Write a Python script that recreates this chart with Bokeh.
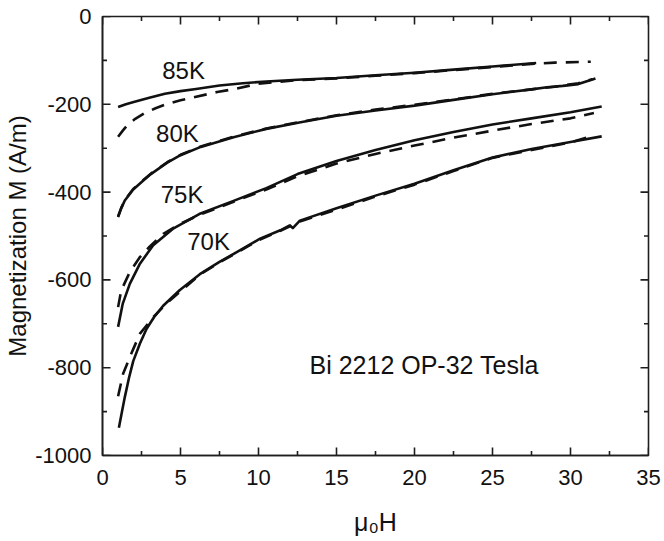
from bokeh.plotting import figure
from bokeh.models import Range1d, SingleIntervalTicker, CustomJSTickFormatter, ColumnDataSource
from bokeh.core.properties import value
from bokeh.embed import file_html
from bokeh.resources import INLINE

# ---- data ----
x85_s = [1.0, 1.5, 2.0, 3.0, 4.0, 5.0, 6.0, 7.5, 9.0, 10.5, 12.5, 15.0, 17.5, 20.0, 22.5, 25.0, 27.8]
y85_s = [-206, -200, -195, -185, -176, -170, -165, -157, -152, -148, -144, -140, -134, -128, -121, -114, -106]
x85_d = [1.0, 1.3, 1.6, 2.1, 2.65, 3.4, 4.15, 5.0, 5.85, 7.35, 8.5, 10.0, 12.5, 15.0, 17.5, 20.0, 22.5, 25.0, 27.5, 29.0, 31.3]
y85_d = [-274, -260, -247, -233, -221, -209, -199, -191, -184, -172, -165, -153, -145, -141, -135, -129, -122, -115, -108, -105, -103]

x80_s = [1.0, 1.2, 1.43, 1.97, 2.6, 3.1, 4.15, 5.0, 6.3, 8.4, 10.5, 12.7, 15.0, 17.5, 20.0, 22.5, 25.0, 27.5, 28.5, 29.5, 30.5, 31.6]
y80_s = [-457, -437, -419, -394, -374, -359, -333, -316, -297, -275, -256, -241, -226, -214, -203, -190, -177, -166, -161, -158, -154, -141]
x80_d = [1.0, 1.2, 1.43, 1.97, 2.6, 3.1, 4.15, 5.0, 6.3, 8.4, 10.5, 12.7, 15.0, 17.5, 20.0, 22.5, 25.0, 27.5, 29.0, 30.5, 31.4]
y80_d = [-455, -436, -418, -393, -373, -358, -332, -315, -296, -274, -255, -240, -225, -212, -201, -189, -176, -166, -160, -152, -143]

x75_s = [1.0, 1.3, 1.75, 2.4, 3.25, 4.5, 6.2, 8.4, 10.5, 12.5, 15.0, 17.5, 20.0, 22.5, 25.0, 27.5, 30.0, 32.0]
y75_s = [-707, -654, -609, -563, -521, -484, -450, -420, -391, -359, -329, -304, -282, -263, -246, -232, -218, -205]
x75_d = [1.0, 1.2, 1.75, 2.4, 3.0, 3.9, 5.0, 6.2, 8.4, 10.5, 12.5, 15.0, 17.5, 20.0, 22.5, 25.0, 27.5, 30.0, 31.5]
y75_d = [-662, -624, -582, -548, -525, -495, -472, -452, -422, -394, -364, -335, -313, -294, -276, -260, -245, -232, -220]

x70_s = [1.05, 1.25, 1.43, 1.7, 1.97, 2.4, 2.82, 3.3, 3.89, 4.96, 6.24, 7.5, 8.8, 10.1, 11.4, 12.0, 12.2, 12.65, 15.0, 17.5, 20.0, 22.5, 25.0, 27.5, 30.0, 32.0]
y70_s = [-937, -900, -867, -823, -785, -745, -712, -685, -659, -623, -587, -559, -533, -506, -487, -476, -482, -465, -437, -408, -381, -350, -321, -302, -286, -273]
x70_d = [1.0, 1.32, 1.75, 2.39, 3.25, 4.1, 5.0, 6.24, 7.5, 8.8, 10.1, 11.4, 12.65, 15.0, 17.5, 20.0, 22.5, 25.0, 27.5, 30.0, 31.0, 31.5]
y70_d = [-865, -814, -776, -723, -685, -654, -626, -588, -560, -534, -508, -488, -467, -440, -410, -383, -352, -322, -304, -287, -276, -272]

curve_labels = ["85K", "80K", "75K", "70K"]
curve_label_x = [5.2, 4.8, 5.1, 6.8]
curve_label_y = [-122, -267, -405, -512]

note_text = ["Bi 2212 OP-32 Tesla"]
note_x = [13.27]
note_y = [-794]

x_major_ticks = [0, 5, 10, 15, 20, 25, 30, 35]
x_minor_ticks = [2.5, 7.5, 12.5, 17.5, 22.5, 27.5, 32.5]
y_major_ticks = [-1000, -800, -600, -400, -200, 0]
y_minor_ticks = [-900, -700, -500, -300, -100]

x_title = "\u03bc\u2080H"
y_title = "Magnetization M (A/m)"

FONT = "Liberation Sans"
INK = "#111111"
AX = "#1e1e1e"
X0, X1, Y0, Y1 = 0, 35, -1000, 0

W, H = 664, 538
BL, BR, BT, BB = 102, 16, 16, 83
FRAME_W = W - BL - BR
FRAME_H = H - BT - BB

p = figure(width=W, height=H, x_range=Range1d(X0, X1), y_range=Range1d(Y0, Y1),
           output_backend="svg", toolbar_location=None,
           min_border_left=BL, min_border_right=BR, min_border_top=BT, min_border_bottom=BB)
p.background_fill_color = "white"
p.border_fill_color = "white"
p.outline_line_color = AX
p.outline_line_width = 1.6
p.outline_line_alpha = 1.0
p.xgrid.visible = False
p.ygrid.visible = False

fmt = CustomJSTickFormatter(code="return String(Math.round(tick));")

def style_axis(ax, interval):
    ax.ticker = SingleIntervalTicker(interval=interval, num_minor_ticks=2)
    ax.formatter = fmt
    ax.axis_line_color = AX
    ax.axis_line_width = 1.6
    ax.major_tick_in = 0
    ax.major_tick_out = 0
    ax.minor_tick_in = 0
    ax.minor_tick_out = 0
    ax.major_label_text_font = FONT
    ax.major_label_text_font_size = "22px"
    ax.major_label_text_color = INK
    ax.axis_label_text_font = FONT
    ax.axis_label_text_font_style = "normal"
    ax.axis_label_text_color = INK

xa = p.xaxis[0]
style_axis(xa, 5)
xa.major_label_standoff = 14
xa.axis_label = x_title
xa.axis_label_text_font_size = "25px"
xa.axis_label_standoff = 20

ya = p.yaxis[0]
style_axis(ya, 200)
ya.major_label_standoff = 11
ya.axis_label = y_title
ya.axis_label_text_font_size = "24px"
ya.axis_label_standoff = 1

# inward tick marks on all four sides, drawn as short segments through the data scales
ux = (X1 - X0) / FRAME_W   # data units per pixel along x
uy = (Y1 - Y0) / FRAME_H   # data units per pixel along y
MAJ, MIN = 8, 4.5
tick_x0, tick_y0, tick_x1, tick_y1 = [], [], [], []
for xs_t, L in ((x_major_ticks, MAJ), (x_minor_ticks, MIN)):
    for xv in xs_t:
        tick_x0 += [xv, xv]
        tick_x1 += [xv, xv]
        tick_y0 += [Y0, Y1]
        tick_y1 += [Y0 + L * uy, Y1 - L * uy]
for ys_t, L in ((y_major_ticks, MAJ), (y_minor_ticks, MIN)):
    for yv in ys_t:
        tick_y0 += [yv, yv]
        tick_y1 += [yv, yv]
        tick_x0 += [X0, X1]
        tick_x1 += [X0 + L * ux, X1 - L * ux]
tick_src = ColumnDataSource(dict(x0=tick_x0, y0=tick_y0, x1=tick_x1, y1=tick_y1))
p.segment(x0="x0", y0="y0", x1="x1", y1="y1", source=tick_src, line_color=AX, line_width=1.6)

series = [
    (x85_s, y85_s, "solid"), (x85_d, y85_d, "13 9"),
    (x80_s, y80_s, "solid"), (x80_d, y80_d, "13 9"),
    (x75_s, y75_s, "solid"), (x75_d, y75_d, "13 9"),
    (x70_s, y70_s, "solid"), (x70_d, y70_d, "13 9"),
]
for xs, ys, dash in series:
    p.line(xs, ys, line_width=2.6, line_color=INK, line_dash=dash, line_join="round")

lab_src = ColumnDataSource(dict(x=curve_label_x, y=curve_label_y, t=curve_labels))
p.text(x="x", y="y", text="t", source=lab_src, text_font=value(FONT), text_font_size="24px",
       text_align="center", text_baseline="middle", text_color=INK)

note_src = ColumnDataSource(dict(x=note_x, y=note_y, t=note_text))
p.text(x="x", y="y", text="t", source=note_src, text_font=value(FONT), text_font_size="25px",
       text_align="left", text_baseline="middle", text_color=INK)

open("out.html", "w").write(file_html(p, INLINE))
